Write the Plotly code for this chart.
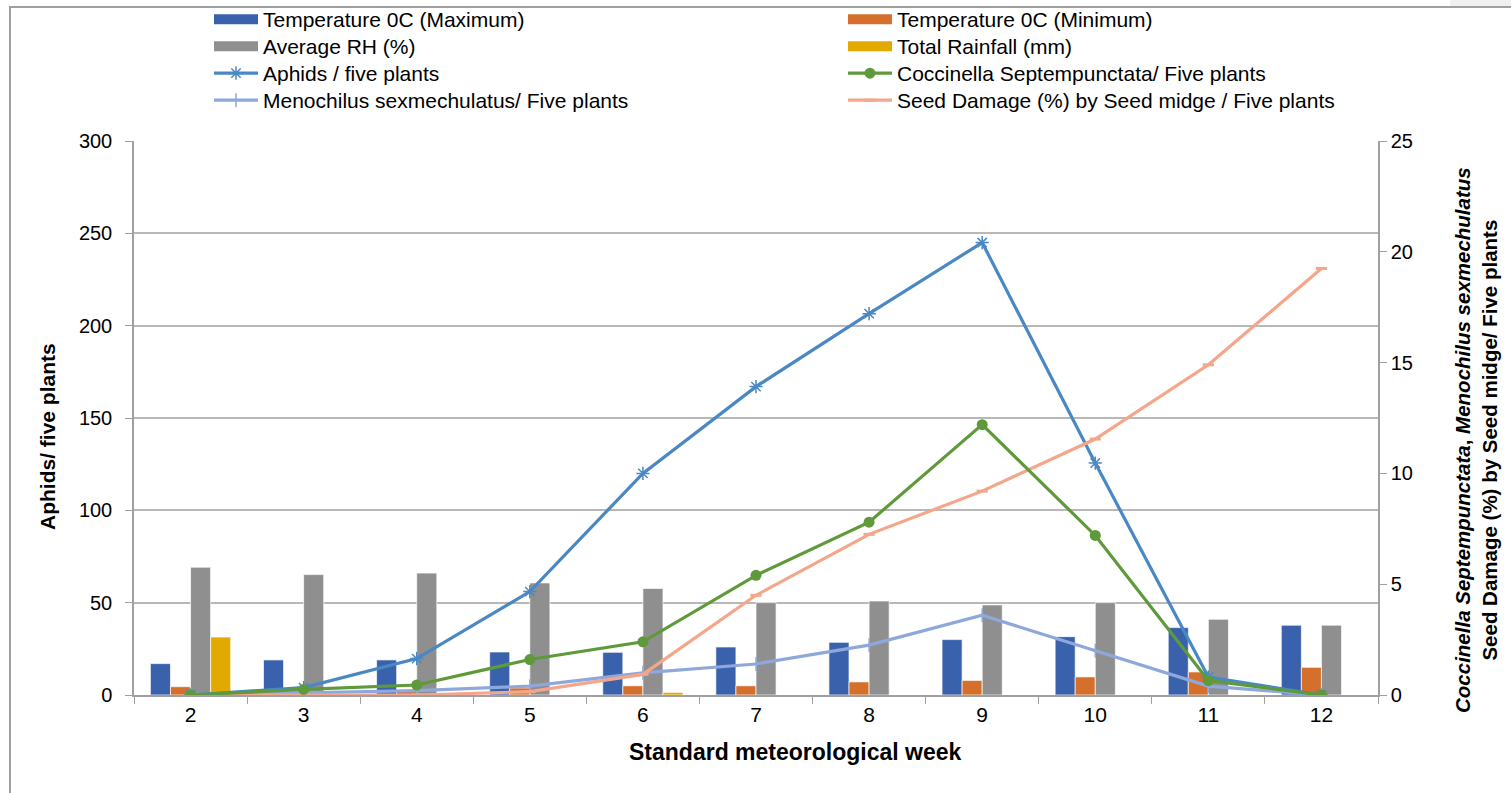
import plotly.graph_objects as go

weeks = ["2", "3", "4", "5", "6", "7", "8", "9", "10", "11", "12"]
temp_max = [17.0, 19.0, 19.0, 23.3, 23.1, 26.0, 28.5, 30.0, 31.6, 36.5, 37.8]
temp_min = [4.5, 2.0, 2.0, 3.8, 5.0, 5.0, 7.1, 7.9, 9.8, 12.5, 15.0]
avg_rh = [69.2, 65.2, 66.0, 60.7, 57.7, 50.0, 50.9, 48.8, 50.0, 41.0, 37.8]
rainfall = [31.4, 0, 0, 0, 1.4, 0, 0, 0, 0, 0, 0]
aphids = [0, 4.0, 19.7, 56.0, 120.0, 167.0, 206.5, 245.0, 125.6, 9.7, 0]
coccinella = [0, 0.25, 0.45, 1.6, 2.4, 5.4, 7.8, 12.2, 7.2, 0.65, 0]
menochilus = [0, 0.1, 0.2, 0.4, 1.0, 1.4, 2.25, 3.6, 2.0, 0.4, 0]
seed_damage = [0, 0, 0, 0.15, 0.93, 4.5, 7.25, 9.2, 11.55, 14.9, 19.25]

SANS = "Liberation Sans, Arial, sans-serif"

W, H = 1511, 793
L, R, T, B = 134, 133, 141, 98
PW, PH = W - L - R, H - T - B


def px(x):
    return (x - L) / PW


def py(y):
    return (H - B - y) / PH


C_TMAX, C_TMIN, C_RH, C_RAIN = "#3A62AC", "#D4702C", "#8F8F8F", "#E2AA00"
C_APH, C_COC, C_MEN, C_SEED = "#4A88C4", "#5E9A3A", "#8FA8DC", "#F4A68A"

bar_line = dict(color="rgba(255,255,255,0.85)", width=0.8)
LW = 3.2

fig = go.Figure()
# bars (legend shown through swatch entries below)
for vals, name, col in [(temp_max, "Temperature 0C (Maximum)", C_TMAX),
                        (temp_min, "Temperature 0C (Minimum)", C_TMIN),
                        (avg_rh, "Average RH (%)", C_RH),
                        (rainfall, "Total Rainfall (mm)", C_RAIN)]:
    fig.add_trace(go.Bar(x=weeks, y=vals, name=name, legendgroup=name, showlegend=False,
                         marker=dict(color=col, line=bar_line)))

fig.add_trace(go.Scatter(x=weeks, y=aphids, name="Aphids / five plants", mode="lines+markers",
                         legend="legend5",
                         line=dict(color=C_APH, width=LW),
                         marker=dict(symbol="asterisk-open", size=11, color=C_APH,
                                     line=dict(color=C_APH, width=1.5))))
fig.add_trace(go.Scatter(x=weeks, y=menochilus, name="Menochilus sexmechulatus/ Five plants",
                         mode="lines+markers", yaxis="y2", legend="legend7",
                         line=dict(color=C_MEN, width=LW),
                         marker=dict(symbol="line-ns-open", size=10, color=C_MEN,
                                     line=dict(color=C_MEN, width=1.5))))
fig.add_trace(go.Scatter(x=weeks, y=seed_damage, name="Seed Damage (%) by Seed midge / Five plants",
                         mode="lines+markers", yaxis="y2", legend="legend8",
                         line=dict(color=C_SEED, width=LW),
                         marker=dict(symbol="line-ew-open", size=8, color=C_SEED,
                                     line=dict(color=C_SEED, width=3))))
fig.add_trace(go.Scatter(x=weeks, y=coccinella, name="Coccinella Septempunctata/ Five plants",
                         mode="lines+markers", yaxis="y2", legend="legend6",
                         line=dict(color=C_COC, width=LW),
                         marker=dict(symbol="circle", size=11, color=C_COC)))

# legend swatches for the bar series
for name, col, lg in [("Temperature 0C (Maximum)", C_TMAX, "legend"),
                      ("Temperature 0C (Minimum)", C_TMIN, "legend2"),
                      ("Average RH (%)", C_RH, "legend3"),
                      ("Total Rainfall (mm)", C_RAIN, "legend4")]:
    fig.add_trace(go.Scatter(x=[None], y=[None], name=name, legendgroup=name, mode="lines",
                             legend=lg, line=dict(color=col, width=13), hoverinfo="skip"))

axis_col = "#A0A0A0"
leg_font = dict(family=SANS, size=21, color="#000000")
col_x = [209, 843]
row_y = [14, 41, 68, 95]
legends = {}
names = ["legend", "legend2", "legend3", "legend4", "legend5", "legend6", "legend7", "legend8"]
for i, lname in enumerate(names):
    r, c = divmod(i, 2)
    legends[lname] = dict(x=px(col_x[c]), y=py(row_y[r] - 15), xanchor="left", yanchor="top",
                          orientation="v", itemwidth=44, font=leg_font,
                          bgcolor="rgba(0,0,0,0)", borderwidth=0)

fig.update_layout(
    width=W, height=H,
    margin=dict(l=L, r=R, t=T, b=B, autoexpand=False),
    paper_bgcolor="white", plot_bgcolor="white",
    barmode="group", bargap=0.29, bargroupgap=0,
    font=dict(family=SANS, color="#000000"),
    xaxis=dict(type="category", range=[-0.5, 10.5], showline=True, linecolor=axis_col, linewidth=1.5,
               ticks="outside", tickson="boundaries", ticklen=7, tickcolor=axis_col,
               tickfont=dict(family=SANS, size=21), showgrid=False, zeroline=False),
    yaxis=dict(range=[0, 300], dtick=50, showline=True, linecolor=axis_col, linewidth=1.5,
               ticks="outside", ticklen=7, tickcolor=axis_col, ticklabelstandoff=9,
               tickfont=dict(family=SANS, size=20), showgrid=True, gridcolor="#B8B8B8",
               gridwidth=1.5, zeroline=False),
    yaxis2=dict(range=[0, 25], dtick=5, overlaying="y", side="right", showline=True,
                linecolor=axis_col, linewidth=1.5, ticks="outside", ticklen=7, tickcolor=axis_col,
                tickfont=dict(family=SANS, size=20), showgrid=False, zeroline=False),
    showlegend=True,
    **legends,
)

fig.add_annotation(text="<b>Aphids/ five plants</b>", xref="paper", yref="paper",
                   x=px(47), y=py(437), textangle=-90, showarrow=False,
                   font=dict(family=SANS, size=21), xanchor="center", yanchor="middle")
fig.add_annotation(text="<b><i>Coccinella Septempunctata</i>, <i>Menochilus sexmechulatus</i><br>"
                        "Seed Damage (%) by Seed midge/ Five plants</b>",
                   xref="paper", yref="paper", x=px(1476), y=py(440), textangle=-90,
                   showarrow=False, font=dict(family=SANS, size=20.5),
                   xanchor="center", yanchor="middle")
fig.add_annotation(text="<b>Standard meteorological week</b>", xref="paper", yref="paper",
                   x=px(795), y=py(752), showarrow=False,
                   font=dict(family=SANS, size=23), xanchor="center", yanchor="middle")

fig.add_shape(type="rect", xref="paper", yref="paper",
              x0=px(10), y0=py(805), x1=px(1530), y1=py(7),
              line=dict(color="#A0A0A0", width=2), fillcolor="rgba(0,0,0,0)", layer="above")
fig.add_shape(type="rect", xref="paper", yref="paper",
              x0=px(1450), y0=py(6), x1=px(1515), y1=py(-5),
              line=dict(width=0), fillcolor="#F0F0F0", layer="below")

fig.write_html("out.html", config={"displayModeBar": False},
               post_script="document.body.style.margin='0';document.body.style.overflow='hidden';")
